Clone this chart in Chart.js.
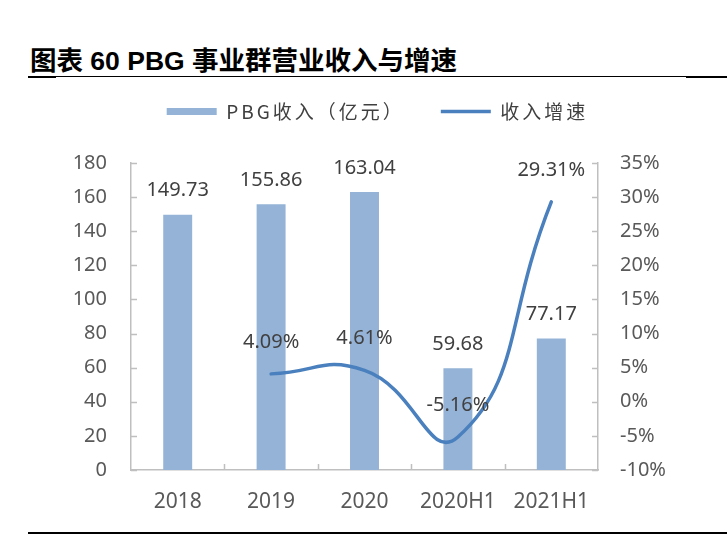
<!DOCTYPE html>
<html>
<head>
<meta charset="utf-8">
<script src="https://cdn.jsdelivr.net/npm/chart.js@4.4.0/dist/chart.umd.min.js"></script>
<style>
  html, body { margin: 0; padding: 0; background: #fff; }
  #wrap { position: relative; width: 727px; height: 538px; overflow: hidden; }
  #titulo { position: absolute; left: 30px; top: 46px; font: bold 26.5px "Liberation Sans", "Noto Sans CJK SC", sans-serif; color: #000; white-space: nowrap; line-height: 30px; }
  .raya { position: absolute; background: #000; }
  canvas { position: absolute; left: 0; top: 0; }
</style>
</head>
<body>
<div id="wrap">
  <div id="titulo">图表 60 PBG 事业群营业收入与增速</div>
  <div class="raya" style="left:28px;top:76px;width:28px;height:2px"></div>
  <div class="raya" style="left:56px;top:76px;width:630px;height:1px"></div>
  <div class="raya" style="left:686px;top:76px;width:41px;height:2px"></div>
  <div class="raya" style="left:28px;top:532px;width:699px;height:2px"></div>
  <canvas id="grafico" width="727" height="538"></canvas>
</div>
<script>
// datos
const categorias = ['2018', '2019', '2020', '2020H1', '2021H1'];
const ingresos = [149.73, 155.86, 163.04, 59.68, 77.17];
const crecimiento = [null, 4.09, 4.61, -5.16, 29.31];
const nombreIngresos = 'PBG收入（亿元）';
const nombreCrecimiento = '收入增速';

const gris = '#BFBFBF';

// etiquetas de valores encima de barras y puntos
const etiquetas = {
  id: 'etiquetas',
  afterDatasetsDraw(chart) {
    let ctx = chart.ctx;
    ctx.save();
    ctx.font = '20px "Noto Sans"';
    ctx.fillStyle = '#404040';
    ctx.textAlign = 'center';
    ctx.textBaseline = 'middle';
    chart.getDatasetMeta(0).data.forEach((barra, i) => {
      ctx.fillText(ingresos[i].toFixed(2), barra.x, barra.y - 24);
    });
    chart.getDatasetMeta(1).data.forEach((p, i) => {
      if (crecimiento[i] === null) return;
      ctx.fillText(crecimiento[i].toFixed(2) + '%', p.x, p.y - 32);
    });
    ctx.restore();
  }
};

// marcas cortas hacia dentro en los ejes
const marcas = {
  id: 'marcas',
  afterDraw(chart) {
    let { ctx, chartArea: a, scales } = chart;
    ctx.save();
    ctx.strokeStyle = gris;
    ctx.lineWidth = 1.5;
    ctx.beginPath();
    scales.y.ticks.forEach(t => {
      let y = Math.round(scales.y.getPixelForValue(t.value)) + 0.5;
      ctx.moveTo(a.left, y);
      ctx.lineTo(a.left + 6, y);
    });
    scales.y1.ticks.forEach(t => {
      let y = Math.round(scales.y1.getPixelForValue(t.value)) + 0.5;
      ctx.moveTo(a.right - 6, y);
      ctx.lineTo(a.right, y);
    });
    for (let i = 0; i < categorias.length - 1; i++) {
      let x = Math.round((scales.x.getPixelForValue(i) + scales.x.getPixelForValue(i + 1)) / 2) + 0.5;
      ctx.moveTo(x, a.bottom);
      ctx.lineTo(x, a.bottom - 6);
    }
    ctx.stroke();
    ctx.restore();
  }
};

// espaciado de letras en la leyenda y su alto
const espaciado = {
  id: 'espaciado',
  beforeLayout(chart) {
    let leyenda = chart.legend;
    if (!leyenda || leyenda.envuelta) return;
    leyenda.envuelta = true;
    let fit = leyenda.fit;
    let draw = leyenda.draw;
    leyenda.fit = function () {
      this.ctx.letterSpacing = '3px';
      fit.call(this);
      this.ctx.letterSpacing = '0px';
      this.height = 97;
    };
    leyenda.draw = function () {
      this.ctx.letterSpacing = '3px';
      draw.call(this);
      this.ctx.letterSpacing = '0px';
    };
  }
};

let ctx = document.getElementById('grafico').getContext('2d');

new Chart(ctx, {
  data: {
    labels: categorias,
    datasets: [
      {
        type: 'bar',
        label: nombreIngresos,
        data: ingresos,
        yAxisID: 'y',
        backgroundColor: '#95B3D7',
        borderWidth: 0,
        barPercentage: 0.31,
        categoryPercentage: 1,
        pointStyle: 'rect',
        order: 1
      },
      {
        type: 'line',
        label: nombreCrecimiento,
        data: crecimiento,
        yAxisID: 'y1',
        borderColor: '#4A80BD',
        backgroundColor: '#4A80BD',
        borderWidth: 3.5,
        tension: 0.5,
        pointRadius: 0,
        pointStyle: 'line',
        borderCapStyle: 'round',
        order: 0
      }
    ]
  },
  options: {
    responsive: false,
    animation: false,
    devicePixelRatio: 1,
    layout: { padding: { left: 60, right: 32, top: 66, bottom: 0 } },
    plugins: {
      legend: {
        position: 'top',
        labels: {
          sort: (a, b) => a.datasetIndex - b.datasetIndex,
          usePointStyle: true,
          pointStyleWidth: 50,
          boxHeight: 7,
          padding: 36,
          color: '#404040',
          font: { family: '"Noto Sans CJK SC"', size: 19 }
        }
      },
      tooltip: { enabled: false }
    },
    scales: {
      x: {
        grid: { display: false, drawTicks: false },
        border: { display: true, color: gris, width: 1.5 },
        ticks: { color: '#595959', padding: 19, font: { family: '"Noto Sans"', size: 21 } },
        afterFit(s) { s.height = 68; }
      },
      y: {
        position: 'left',
        min: 0,
        max: 180,
        grid: { display: false, drawTicks: false },
        border: { display: true, color: gris, width: 1.5 },
        ticks: { stepSize: 20, color: '#595959', padding: 24, font: { family: '"Noto Sans"', size: 20 } },
        afterFit(s) { s.width = 71; }
      },
      y1: {
        position: 'right',
        min: -10,
        max: 35,
        grid: { display: false, drawTicks: false },
        border: { display: true, color: gris, width: 1.5 },
        ticks: {
          stepSize: 5,
          color: '#595959',
          padding: 22,
          font: { family: '"Noto Sans"', size: 20 },
          callback: v => v + '%'
        },
        afterFit(s) { s.width = 97; }
      }
    }
  },
  plugins: [etiquetas, marcas, espaciado]
});
</script>
</body>
</html>
